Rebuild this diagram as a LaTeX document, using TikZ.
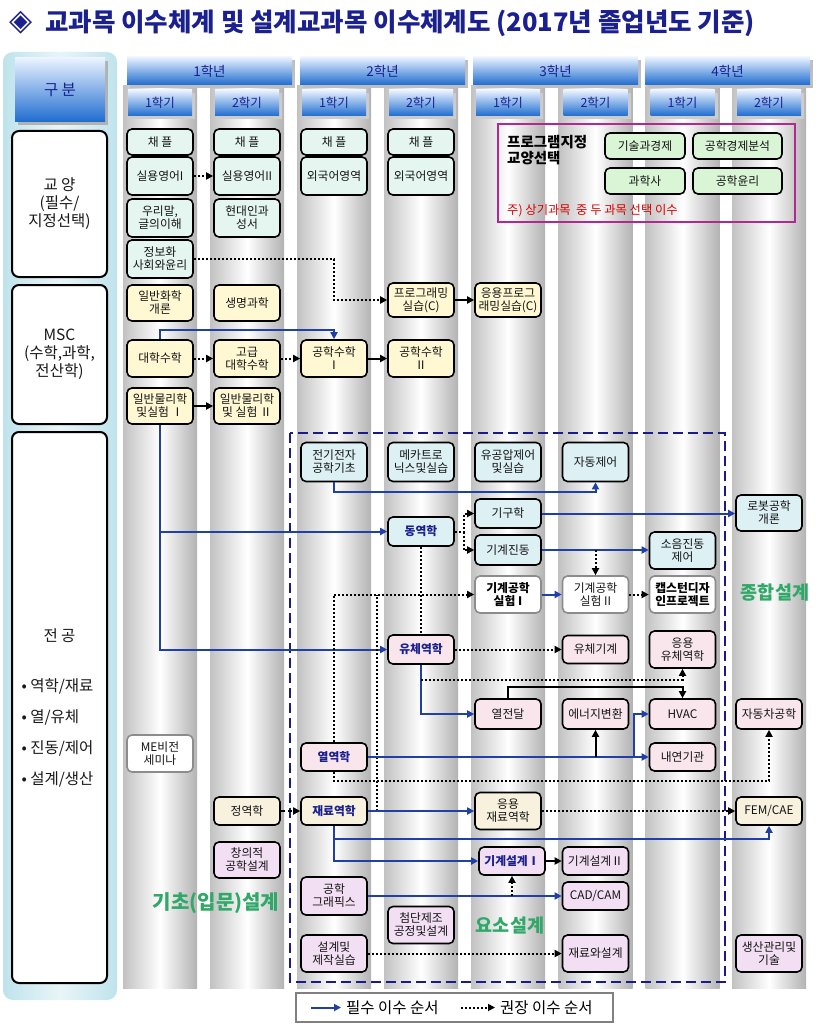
\documentclass[tikz,border=0pt]{standalone}
\usepackage{fontspec}
\setmainfont{Noto Sans CJK KR}
\newfontfamily\symfont{DejaVu Sans}
\usetikzlibrary{arrows.meta}
\definecolor{cGa}{HTML}{E4F6EF}
\definecolor{cPg}{HTML}{D9F5D6}
\definecolor{cMs}{HTML}{FFF8D2}
\definecolor{cCt}{HTML}{DDF0F4}
\definecolor{cTh}{HTML}{F8E6EC}
\definecolor{cMt}{HTML}{F7F1DE}
\definecolor{cDs}{HTML}{F3DFF3}
\definecolor{navyT}{HTML}{1A2090}
\definecolor{arrB}{HTML}{2040A8}
\definecolor{grn}{HTML}{30A868}
\definecolor{mag}{HTML}{B02890}
\definecolor{hdT}{HTML}{EAF3FF}
\definecolor{hdB}{HTML}{1E6CD0}
\definecolor{panel}{HTML}{BFE3EB}
\definecolor{dashN}{HTML}{1A1A8A}
\newcommand\nodefont{\fontsize{11.8}{13}\selectfont}
\newcommand\catfont{\fontsize{15.5}{18}\selectfont}
\newcommand\titlefont{\fontsize{25.5}{28}\selectfont\bfseries}
\newcommand\yrfont{\fontsize{13.5}{15}\selectfont}
\newcommand\semfont{\fontsize{12.5}{14}\selectfont}
\newcommand\progfont{\fontsize{14.5}{16.5}\selectfont\bfseries}
\newcommand\notefont{\fontsize{12.3}{14}\selectfont}
\newcommand\grfont{\fontsize{18.5}{20}\selectfont\bfseries}
\newcommand\grbfont{\fontsize{20}{22}\selectfont\bfseries}
\newcommand\legfont{\fontsize{15.5}{17}\selectfont}
\tikzset{
  bx/.style={draw=black, line width=1.6pt, rounded corners=5pt, minimum width=66pt, inner sep=0.5pt, align=center, font=\nodefont, text=black!92},
  ht/.style={minimum height=#1},
  ga/.style={fill=cGa}, ms/.style={fill=cMs}, ct/.style={fill=cCt}, th/.style={fill=cTh},
  mt/.style={fill=cMt}, ds/.style={fill=cDs}, pg/.style={fill=cPg},
  labx/.style={draw=black!45, fill=white},
  bnav/.style={font=\nodefont\bfseries, text=navyT},
  bblk/.style={font=\nodefont\bfseries, text=black},
  cat/.style={draw=black, line width=2pt, rounded corners=7pt, fill=white, align=center, font=\catfont, text=black!90},
  barr/.style={draw=arrB, line width=2pt, -{Triangle[length=7pt,width=7pt]}},
  karr/.style={draw=black, line width=2pt, -{Triangle[length=7pt,width=7pt]}},
  darr/.style={draw=black, line width=2pt, dash pattern=on 2pt off 2pt, -{Triangle[length=7pt,width=7pt]}},
  dline/.style={draw=black, line width=2pt, dash pattern=on 2pt off 2pt},
  dsharr/.style={draw=black, line width=2pt, dash pattern=on 4pt off 3pt, -{Triangle[length=7pt,width=7pt]}},
}
\def\ca{160}\def\cb{247}\def\cc{334}\def\cd{421}\def\ce{508}\def\cf{595.5}\def\cg{682.5}\def\ch{769}
\begin{document}
\begin{tikzpicture}[x=1pt,y=-1pt]
\useasboundingbox (0,0) rectangle (825,1024);
\fill[white] (0,0) rectangle (825,1024);
% column stripes
\foreach \cx in {160,247,334,421,508,595.5,682.5,769}{
  \shade[left color=black!24, right color=black!30, middle color=white] (\cx-37,86) rectangle (\cx+37,988);
}
% left panel
\shade[rounded corners=10pt, left color=panel, right color=panel, middle color=panel!35] (3,52) rectangle (117,1000);
% title
\node[anchor=west, inner sep=0, text=navyT, font=\symfont\bfseries\fontsize{30}{32}\selectfont] (tsym) at (9,23) {◈};
\node[anchor=west, inner sep=0, text=navyT, font=\titlefont] (title) at (45,23) {교과목 이수체계 및 설계교과목 이수체계도 (2017년 졸업년도 기준)};
% header
\fill[black!30] (18,61) rectangle (108,125);
\shade[top color=hdT, bottom color=hdB] (15,58) rectangle (105,122);
\node[font=\catfont, text=navyT] (gubun) at (60,90) {구 분};
\foreach \i/\xa in {1/127,2/300,3/473,4/645}{
  \fill[black!25] (\xa+3,60) rectangle (\xa+168,88);
  \shade[top color=hdT, bottom color=hdB] (\xa,57) rectangle (\xa+165,85);
  \node[font=\yrfont, text=navyT] (yr\i) at (\xa+82.5,71) {{\i}학년};
}
\foreach \cx/\s [count=\k] in {160/1,247/2,334/1,421/2,508/1,595.5/2,682.5/1,769/2}{
  \fill[black!20] (\cx-30,93) rectangle (\cx+35,119);
  \shade[top color=hdT, bottom color=hdB] (\cx-32,90) rectangle (\cx+32,116);
  \node[font=\semfont, text=navyT] (sem\k) at (\cx,103) {{\s}학기};
}
% category boxes
\node[cat, minimum width=95pt, minimum height=146pt] (catA) at (59.5,204) {교 양\\(필수/\\지정선택)};
\node[cat, minimum width=95pt, minimum height=139pt] (catB) at (59.5,354.5) {MSC\\(수학,과학,\\전산학)};
\node[cat, minimum width=95pt, minimum height=551pt] (catC) at (59.5,707.5) {};
\node[font=\catfont, text=black!90] (majT) at (59.5,636) {전 공};
\node[anchor=west, font=\catfont, text=black!90] (bul1) at (18,686) {• 역학/재료};
\node[anchor=west, font=\catfont, text=black!90] (bul2) at (18,717) {• 열/유체};
\node[anchor=west, font=\catfont, text=black!90] (bul3) at (18,748) {• 진동/제어};
\node[anchor=west, font=\catfont, text=black!90] (bul4) at (18,779) {• 설계/생산};
% program box
\draw[mag, line width=1.8pt] (498,124) rectangle (795,222);
\node[anchor=north west, align=left, font=\progfont, inner sep=0] (pgT) at (507,135) {프로그램지정\\교양선택};
\node[bx, pg, minimum width=80pt, ht=26pt] (pg1) at (645,146) {기술과경제};
\node[bx, pg, minimum width=89pt, ht=26pt] (pg2) at (737.5,146) {공학경제분석};
\node[bx, pg, minimum width=80pt, ht=26pt] (pg3) at (645,181) {과학사};
\node[bx, pg, minimum width=89pt, ht=26pt] (pg4) at (737.5,181) {공학윤리};
\node[anchor=west, text=red!85!black, font=\notefont, inner sep=0] (note) at (507,211) {주) 상기과목 \ 중 두 과목 선택 이수};
% dashed region
\draw[dashN, line width=2pt, dash pattern=on 10pt off 5pt] (290,433) rectangle (725,982);
% 교양
\node[bx,ga,ht=26pt] (chA) at (\ca,142) {채 플};
\node[bx,ga,ht=26pt] (chB) at (\cb,142) {채 플};
\node[bx,ga,ht=26pt] (chC) at (\cc,142) {채 플};
\node[bx,ga,ht=26pt] (chD) at (\cd,142) {채 플};
\node[bx,ga,ht=38pt] (eng1) at (\ca,176) {실용영어I};
\node[bx,ga,ht=38pt] (eng2) at (\cb,176) {실용영어II};
\node[bx,ga,ht=38pt] (forA) at (\cc,176) {외국어영역};
\node[bx,ga,ht=38pt] (forB) at (\cd,176) {외국어영역};
\node[bx,ga,ht=38pt] (kor) at (\ca,218) {우리말,\\글의이해};
\node[bx,ga,ht=38pt] (mod) at (\cb,218) {현대인과\\성서};
\node[bx,ga,ht=38pt] (info) at (\ca,259) {정보화\\사회와윤리};
% MSC
\node[bx,ms,ht=36pt] (chem) at (\ca,303) {일반화학\\개론};
\node[bx,ms,ht=36pt] (bio) at (\cb,303) {생명과학};
\node[bx,ms,ht=34pt] (progC) at (\cd,300) {프로그래밍\\실습(C)};
\node[bx,ms,ht=34pt] (aprog) at (\ce,300) {응용프로그\\래밍실습(C)};
\node[bx,ms,ht=37pt] (math) at (\ca,358.5) {대학수학};
\node[bx,ms,ht=37pt] (amath) at (\cb,358.5) {고급\\대학수학};
\node[bx,ms,ht=37pt] (em1) at (\cc,358.5) {공학수학\\Ⅰ};
\node[bx,ms,ht=37pt] (em2) at (\cd,358.5) {공학수학\\Ⅱ};
\node[bx,ms,ht=36pt] (phy1) at (\ca,406) {일반물리학\\및실험 Ⅰ};
\node[bx,ms,ht=36pt] (phy2) at (\cb,406) {일반물리학\\및 실험 Ⅱ};
% 전공
\node[bx,ct,ht=39pt] (elec) at (\cc,462) {전기전자\\공학기초};
\node[bx,ct,ht=39pt] (mech) at (\cd,462) {메카트로\\닉스및실습};
\node[bx,ct,ht=39pt] (hyd) at (\ce,462) {유공압제어\\및실습};
\node[bx,ct,ht=39pt] (ctrl) at (\cf,462) {자동제어};
\node[bx,ct,ht=29pt] (kin) at (\ce,513.5) {기구학};
\node[bx,ct,ht=36pt] (robot) at (\ch,513) {로봇공학\\개론};
\node[bx,ct,bnav,ht=29pt] (dyn) at (\cd,531.5) {동역학};
\node[bx,ct,ht=30pt] (vib) at (\ce,550) {기계진동};
\node[bx,ct,ht=37pt] (noise) at (\cg,550.5) {소음진동\\제어};
\node[bx,labx,bblk,ht=37pt] (lab1) at (\ce,594.5) {기계공학\\실험 I};
\node[bx,labx,ht=37pt] (lab2) at (\cf,594.5) {기계공학\\실험 II};
\node[bx,labx,bblk,ht=37pt] (cap) at (\cg,594.5) {캡스턴디자\\인프로젝트};
\node[bx,th,bnav,ht=29pt] (fluid) at (\cd,649.5) {유체역학};
\node[bx,th,ht=28pt] (fmach) at (\cf,649.5) {유체기계};
\node[bx,th,ht=37pt] (afluid) at (\cg,649.5) {응용\\유체역학};
\node[bx,th,ht=30pt] (heat) at (\ce,714) {열전달};
\node[bx,th,ht=30pt] (energy) at (\cf,714) {에너지변환};
\node[bx,th,ht=30pt] (hvac) at (\cg,714) {HVAC};
\node[bx,th,ht=30pt] (auto) at (\ch,714) {자동차공학};
\node[bx,labx,ht=37pt] (me) at (\ca,753.5) {ME비전\\세미나};
\node[bx,th,bnav,ht=28pt] (thermo) at (\cc,757) {열역학};
\node[bx,th,ht=28pt] (ice) at (\cg,757) {내연기관};
\node[bx,mt,ht=28pt] (statics) at (\cb,811) {정역학};
\node[bx,mt,bnav,ht=28pt] (mater) at (\cc,811) {재료역학};
\node[bx,mt,ht=37pt] (amater) at (\ce,811) {응용\\재료역학};
\node[bx,mt,ht=28pt] (fem) at (\ch,811) {FEM/CAE};
\node[bx,ds,ht=36pt] (creat) at (\cb,860) {창의적\\공학설계};
\node[bx,ds,bnav,ht=28pt] (md1) at (512,861) {기계설계Ⅰ};
\node[bx,ds,ht=28pt] (md2) at (\cf,861) {기계설계Ⅱ};
\node[bx,ds,ht=38pt] (graph) at (\cc,896) {공학\\그래픽스};
\node[bx,ds,ht=28pt] (cad) at (\cf,896) {CAD/CAM};
\node[bx,ds,ht=37pt] (adv) at (\cd,925) {첨단제조\\공정및설계};
\node[bx,ds,ht=37pt] (dm) at (\cc,953.5) {설계및\\제작실습};
\node[bx,ds,ht=37pt] (matd) at (\cf,953.5) {재료와설계};
\node[bx,ds,ht=37pt] (prod) at (\ch,953.5) {생산관리및\\기술};
% green labels
\node[text=grn, font=\grfont] (gl1) at (775,593) {종합설계};
\node[text=grn, font=\grbfont] (gl2) at (216,903) {기초(입문)설계};
\node[text=grn, font=\grfont] (gl3) at (510,926) {요소설계};
% connectors - 교양/MSC
\draw[darr] (eng1) -- (eng2);
\draw[darr] (info.east) -- ++(140,0) |- (progC.west);
\draw[karr] (progC) -- (aprog);
\draw[darr] (math) -- (amath);
\draw[darr] (amath) -- (em1);
\draw[karr] (em1) -- (em2);
\draw[barr] (math.north) -- ++(0,-9) -| (em1.north);
\draw[karr] (phy1) -- (phy2);
% 전공
\draw[barr] (phy1.south) |- (dyn.west);
\draw[barr] (phy1.south) |- (fluid.west);
\draw[barr] (elec.south) -- ++(0,10) -| (ctrl.south);
\draw[darr] (dyn.east) -- ++(9,0) coordinate (dsplit) |- (kin.west);
\draw[darr] (dsplit) |- (vib.west);
\draw[barr] (kin.east) -- (kin.east -| robot.west);
\draw[barr] (vib.east) -- (vib.east -| noise.west);
\draw[darr] (lab2.north |- vib.east) -- (lab2.north);
\draw[dline] (dyn.south) -- (fluid.north);
\draw[barr] (lab1) -- (lab2);
\draw[darr] (lab2) -- (cap);
\draw[darr] (thermo.north) |- (lab1.west);
\path (mater.east) ++(9,0) coordinate (mj);
\draw[dline] (mj) -- (mj |- lab1.west);
\draw[darr] (fluid) -- (fmach);
\draw[barr] (fluid.south) |- (heat.west);
\path (fluid.south) ++(0,15) coordinate (fj);
\draw[darr] (fj) -| (afluid.south);
\draw[karr] (heat.north) -- ++(0,-11) -| (hvac.north);
\draw[barr] (thermo) -- (ice);
\path (ice.west) ++(-15,0) coordinate (ij);
\draw[barr] (ij) |- (hvac.west);
\draw[karr] (energy.south |- thermo.east) -- (energy.south);
\draw[darr] (thermo.south) -- ++(0,9) -| (auto.south);
\draw[dsharr] (statics) -- (mater);
\draw[barr] (mater.east) -- (mater.east -| amater.west);
\draw[darr] (amater) -- (fem);
\draw[barr] (mater.south) |- (md1.west);
\path (mater.south) ++(0,13) coordinate (mj2);
\draw[barr] (mj2) -| (fem.south);
\draw[karr] (md1) -- (md2);
\draw[barr] (graph.east) -- (graph.east -| cad.west);
\draw[darr] (md1.south |- graph.east) -- (md1.south);
\draw[darr] (dm) -- (matd);
% legend
\node[draw=black!50, line width=1.5pt, fill=white, minimum width=317pt, minimum height=29pt, inner sep=0] (leg) at (454.5,1007.5) {};
\coordinate (la) at (311,1007.5);
\coordinate (lb) at (341,1007.5);
\draw[barr] (la) -- (lb);
\node[anchor=west, font=\legfont, inner sep=0] (lt1) at (346,1007.5) {필수 이수 순서};
\coordinate (lc) at (461,1007.5);
\coordinate (ld) at (495,1007.5);
\draw[darr] (lc) -- (ld);
\node[anchor=west, font=\legfont, inner sep=0] (lt2) at (500,1007.5) {권장 이수 순서};
\end{tikzpicture}
\end{document}
